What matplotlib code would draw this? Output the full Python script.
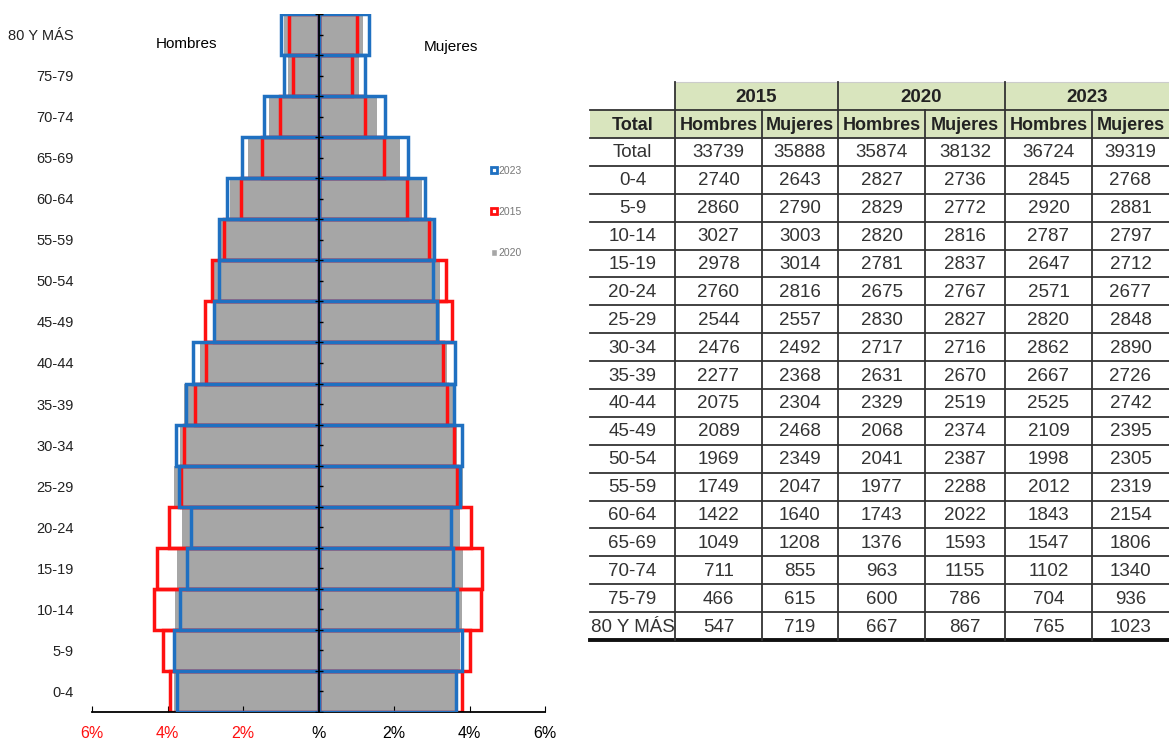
import numpy as np
import matplotlib
matplotlib.use("Agg")
import matplotlib.pyplot as plt
from matplotlib.patches import Patch

plt.rcParams["font.family"] = ["Liberation Sans Narrow", "Liberation Sans", "DejaVu Sans"]

# Data (from the table)
grupos = ["0-4", "5-9", "10-14", "15-19", "20-24", "25-29", "30-34", "35-39", "40-44",
          "45-49", "50-54", "55-59", "60-64", "65-69", "70-74", "75-79", "80 Y MÁS"]
h2015 = [2740, 2860, 3027, 2978, 2760, 2544, 2476, 2277, 2075, 2089, 1969, 1749, 1422, 1049, 711, 466, 547]
m2015 = [2643, 2790, 3003, 3014, 2816, 2557, 2492, 2368, 2304, 2468, 2349, 2047, 1640, 1208, 855, 615, 719]
h2020 = [2827, 2829, 2820, 2781, 2675, 2830, 2717, 2631, 2329, 2068, 2041, 1977, 1743, 1376, 963, 600, 667]
m2020 = [2736, 2772, 2816, 2837, 2767, 2827, 2716, 2670, 2519, 2374, 2387, 2288, 2022, 1593, 1155, 786, 867]
h2023 = [2845, 2920, 2787, 2647, 2571, 2820, 2862, 2667, 2525, 2109, 1998, 2012, 1843, 1547, 1102, 704, 765]
m2023 = [2768, 2881, 2797, 2712, 2677, 2848, 2890, 2726, 2742, 2395, 2305, 2319, 2154, 1806, 1340, 936, 1023]
tot_h = {"2015": 33739, "2020": 35874, "2023": 36724}
tot_m = {"2015": 35888, "2020": 38132, "2023": 39319}

x_ticks = [-6, -4, -2, 0, 2, 4, 6]
x_labels = ["6%", "4%", "2%", "%", "2%", "4%", "6%"]


def pct(vals, year):
    return np.array(vals) / (tot_h[year] + tot_m[year]) * 100


GRAY = "#a6a6a6"
RED = "#ff1010"
BLUE = "#1f70c1"

fig = plt.figure(figsize=(11.69, 7.42), dpi=100)
ax = fig.add_axes([92 / 1169, 1 - 712 / 742, (545 - 92) / 1169, (712 - 14) / 742])

y = np.arange(len(grupos))

# 2020 filled gray
ax.barh(y, -pct(h2020, "2020"), height=1, color=GRAY, zorder=1)
ax.barh(y, pct(m2020, "2020"), height=1, color=GRAY, zorder=1)
# 2015 red outline
ax.barh(y, -pct(h2015, "2015"), height=1, fill=False, edgecolor=RED, lw=2.5, zorder=2)
ax.barh(y, pct(m2015, "2015"), height=1, fill=False, edgecolor=RED, lw=2.5, zorder=2)
# 2023 blue outline
ax.barh(y, -pct(h2023, "2023"), height=1, fill=False, edgecolor=BLUE, lw=2.5, zorder=3)
ax.barh(y, pct(m2023, "2023"), height=1, fill=False, edgecolor=BLUE, lw=2.5, zorder=3)

# central axis with small ticks
ax.axvline(0, color="black", lw=1.3, zorder=4)
ax.plot(np.zeros(len(y)), y, ls="none", marker=1, ms=3, color="black", zorder=4)
ax.plot(np.zeros(len(y) + 1), np.arange(len(y) + 1) - 0.5, ls="none", marker="_", ms=6,
        color="black", zorder=4)

ax.set_xlim(-6, 6)
ax.set_ylim(-0.5, len(grupos) - 0.5)
ax.set_yticks(y)
ax.set_yticklabels(grupos, fontsize=10.5, color="#222222")
ax.tick_params(axis="y", length=0, pad=13)
ax.set_xticks(x_ticks)
ax.set_xticklabels(x_labels, fontsize=11.5)
ax.tick_params(axis="x", direction="in", length=4, pad=10)
for lbl in ax.get_xticklabels()[:3]:
    lbl.set_color(RED)
for s in ["left", "right", "top"]:
    ax.spines[s].set_visible(False)
ax.spines["bottom"].set_linewidth(1.3)

ax.text(-3.5, 15.78, "Hombres", ha="center", va="center", fontsize=11)
ax.text(3.5, 15.7, "Mujeres", ha="center", va="center", fontsize=11)

handles = [Patch(facecolor="white", edgecolor=BLUE, lw=2, label="2023"),
           Patch(facecolor="white", edgecolor=RED, lw=2, label="2015"),
           Patch(facecolor=GRAY, edgecolor="white", lw=1, label="2020")]
leg = ax.legend(handles=handles, loc="upper left", bbox_to_anchor=(0.86, 0.796), frameon=False,
                fontsize=7.5, labelspacing=3.0, handlelength=0.55, handleheight=0.55,
                handletextpad=0.15)
for t in leg.get_texts():
    t.set_color("#777777")

# Table
tax = fig.add_axes([0, 0, 1, 1])
tax.set_xlim(0, 1169)
tax.set_ylim(742, 0)
tax.axis("off")

cols = [590, 675, 762, 838, 925, 1005, 1092, 1169]
r0, r1, r2 = 82, 110, 138
bottom = 640
GREEN = "#d9e5be"

tax.add_patch(plt.Rectangle((cols[1], r0), cols[-1] - cols[1], r1 - r0, color=GREEN, lw=0))
tax.add_patch(plt.Rectangle((cols[0], r1), cols[-1] - cols[0], r2 - r1, color=GREEN, lw=0))

years = ["2015", "2020", "2023"]
for i, yr in enumerate(years):
    xc = (cols[1 + 2 * i] + cols[3 + 2 * i]) / 2
    tax.text(xc, (r0 + r1) / 2 + 1, yr, ha="center", va="center", fontsize=13.5,
             fontweight="bold", color="#222222")
sub = ["Total"] + ["Hombres", "Mujeres"] * 3
for j, s in enumerate(sub):
    tax.text((cols[j] + cols[j + 1]) / 2, (r1 + r2) / 2 + 1, s, ha="center", va="center",
             fontsize=13, fontweight="bold", color="#222222")

rows = [["Total"] + [tot_h["2015"], tot_m["2015"], tot_h["2020"], tot_m["2020"],
                     tot_h["2023"], tot_m["2023"]]]
for k, g in enumerate(grupos):
    rows.append([g, h2015[k], m2015[k], h2020[k], m2020[k], h2023[k], m2023[k]])

rh = (bottom - r2) / len(rows)
for i, row in enumerate(rows):
    yc = r2 + (i + 0.5) * rh + 1
    for j, v in enumerate(row):
        tax.text((cols[j] + cols[j + 1]) / 2, yc, str(v), ha="center", va="center",
                 fontsize=13.5, color="#333333")

# grid lines
tax.plot([cols[1], cols[-1]], [r0, r0], color="#cccccc", lw=0.8)
for yy in [r1, r2] + [r2 + i * rh for i in range(1, len(rows))]:
    tax.plot([cols[0], cols[-1]], [yy, yy], color="#333333", lw=1.3)
tax.plot([cols[0], cols[-1]], [bottom, bottom], color="#111111", lw=2.8)
for j in [1, 3, 5]:
    tax.plot([cols[j], cols[j]], [r0, bottom], color="#333333", lw=1.3)
for j in [2, 4, 6]:
    tax.plot([cols[j], cols[j]], [r1, bottom], color="#333333", lw=1.3)

fig.savefig("out.png", dpi=100)
